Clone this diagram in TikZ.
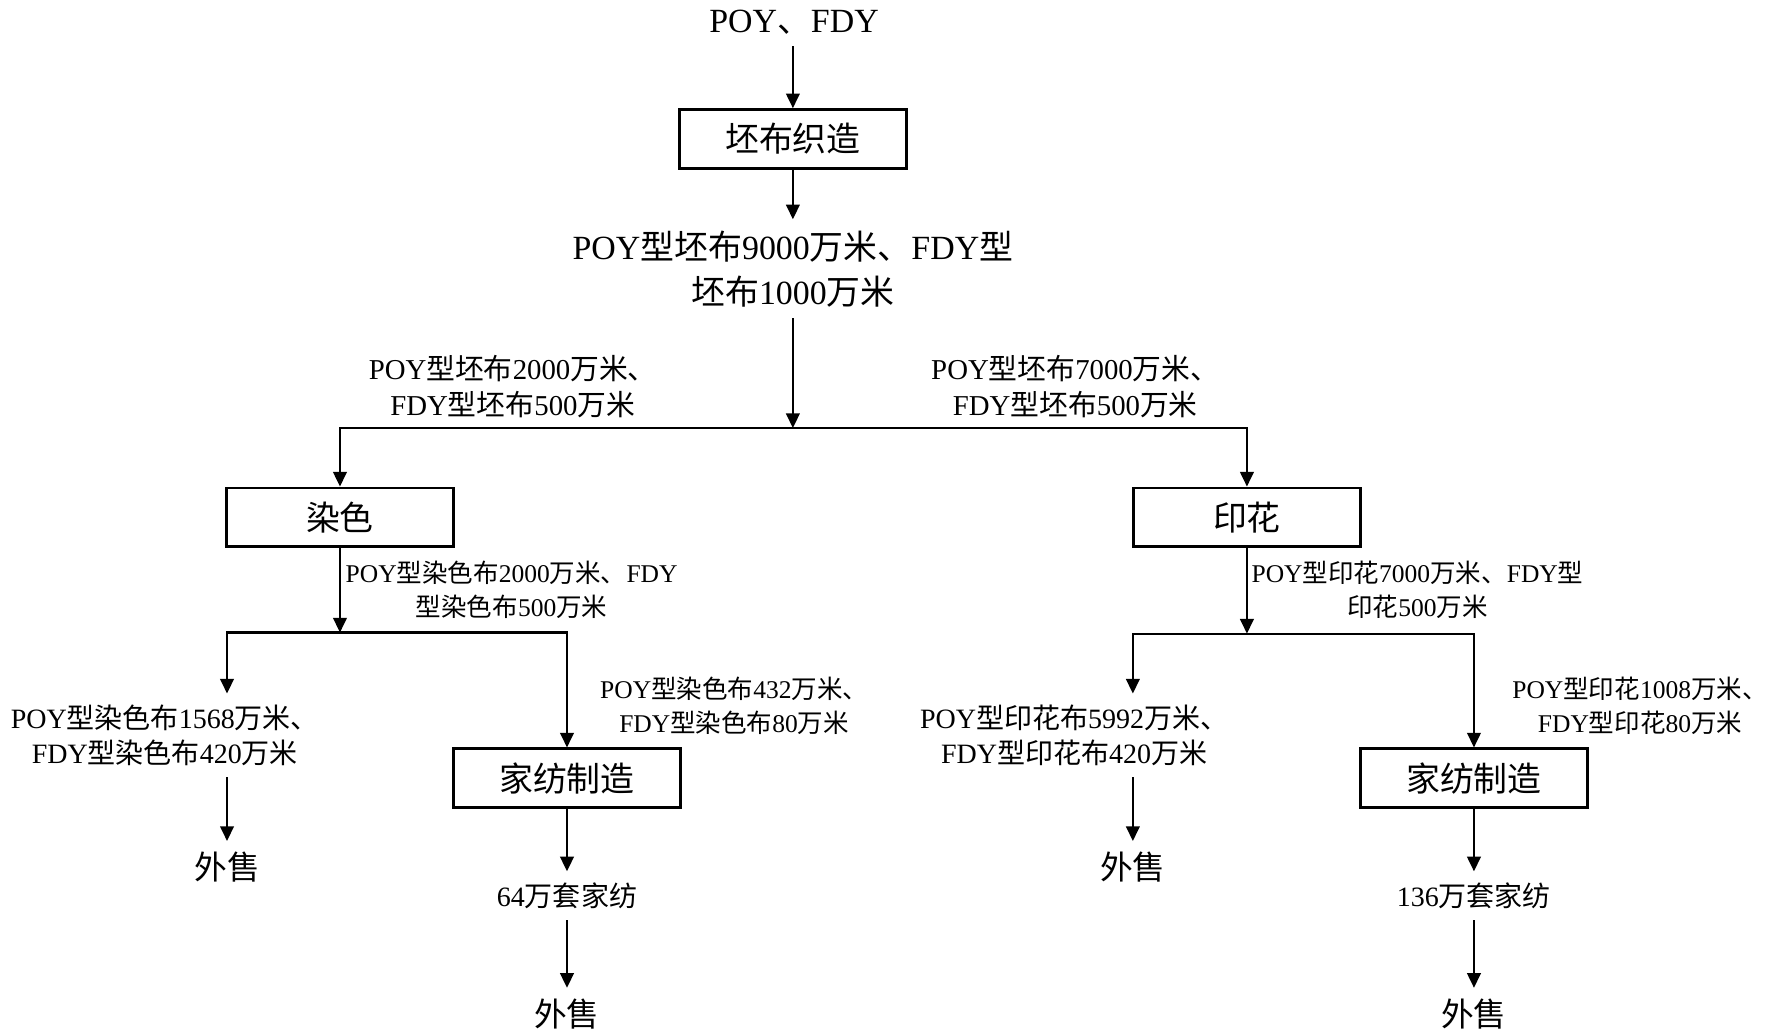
\documentclass[tikz,border=0pt]{standalone}
\usepackage{fontspec}
\setmainfont{Liberation Serif}
\newfontfamily\cjk{Noto Sans CJK SC}
\newcommand\zh[1]{{\cjk #1}}
\newcommand\fA{\fontsize{15pt}{20pt}\selectfont}
\newcommand\fB{\fontsize{12.75pt}{16pt}\selectfont}
\newcommand\fC{\fontsize{11.3pt}{15pt}\selectfont}
\newcommand\fD{\fontsize{12.4pt}{15.5pt}\selectfont}
\newcommand\fE{\fontsize{14.5pt}{18pt}\selectfont}
\usetikzlibrary{arrows.meta}
\begin{document}
\begin{tikzpicture}[x=0.5pt,y=-0.5pt,
  box/.style={draw,line width=1.2pt,minimum width=100.5pt,minimum height=26pt,inner sep=0pt,font=\fA},
  txt/.style={inner sep=0pt,outer sep=5pt,align=center},
  arr/.style={line width=1pt,-{Triangle[length=6.5pt,width=6pt]}}]
\useasboundingbox (0,0) rectangle (1568,917.2);
% top
\node[txt,font=\fA] (src) at (703,20) {POY\zh{、}FDY};
\node[box] (weave) at (702,123) {\zh{坯布织造}};
\node[txt,font=\fA] (grey) at (702,238) {POY\zh{型坯布}9000\zh{万米、}FDY\zh{型}\\\zh{坯布}1000\zh{万米}};
\coordinate (j1) at (702,379);
\node[txt,font=\fB] (l1) at (454,342) {POY\zh{型坯布}2000\zh{万米、}\\FDY\zh{型坯布}500\zh{万米}};
\node[txt,font=\fB] (r1) at (952,342) {POY\zh{型坯布}7000\zh{万米、}\\FDY\zh{型坯布}500\zh{万米}};
\node[box] (dye) at (301,458) {\zh{染色}};
\node[box] (prt) at (1104,458) {\zh{印花}};
\coordinate (j2) at (301,560);
\coordinate (j3) at (1104,561);
% left branch
\node[txt,font=\fC] (l2) at (453,522) {POY\zh{型染色布}2000\zh{万米、}FDY\\\zh{型染色布}500\zh{万米}};
\node[txt,font=\fD] (ll) at (146,651) {POY\zh{型染色布}1568\zh{万米、}\\FDY\zh{型染色布}420\zh{万米}};
\node[txt,font=\fC] (lr) at (650,625) {POY\zh{型染色布}432\zh{万米、}\\FDY\zh{型染色布}80\zh{万米}};
\node[box] (home1) at (502,689) {\zh{家纺制造}};
\node[txt,font=\fE] (sell1) at (201,768) {\zh{外售}};
\node[txt,font=\fD] (set1) at (502,793) {64\zh{万套家纺}};
\node[txt,font=\fE] (sell3) at (502,898) {\zh{外售}};
% right branch
\node[txt,font=\fC] (r2) at (1255,522) {POY\zh{型印花}7000\zh{万米、}FDY\zh{型}\\\zh{印花}500\zh{万米}};
\node[txt,font=\fD] (rl) at (951,651) {POY\zh{型印花布}5992\zh{万米、}\\FDY\zh{型印花布}420\zh{万米}};
\node[txt,font=\fC] (rr) at (1452,625) {POY\zh{型印花}1008\zh{万米、}\\FDY\zh{型印花}80\zh{万米}};
\node[box] (home2) at (1305,689) {\zh{家纺制造}};
\node[txt,font=\fE] (sell2) at (1003,768) {\zh{外售}};
\node[txt,font=\fD] (set2) at (1305,793) {136\zh{万套家纺}};
\node[txt,font=\fE] (sell4) at (1305,898) {\zh{外售}};
% connectors
\draw[arr] (src.south -| weave.north) -- (weave.north);
\draw[arr] (weave.south) -- (grey.north);
\draw[arr] (grey.south) -- (j1);
\draw[arr] (j1) -| (dye.north);
\draw[arr] (j1) -| (prt.north);
\draw[arr] (dye.south) -- (j2);
\draw[arr] (j2) -| (sell1 |- ll.north);
\draw[arr] (j2) -| (home1.north);
\draw[arr] (sell1 |- ll.south) -- (sell1.north);
\draw[arr] (home1.south) -- (set1.north);
\draw[arr] (set1.south) -- (sell3.north);
\draw[arr] (prt.south) -- (j3);
\draw[arr] (j3) -| (sell2 |- rl.north);
\draw[arr] (j3) -| (home2.north);
\draw[arr] (sell2 |- rl.south) -- (sell2.north);
\draw[arr] (home2.south) -- (set2.north);
\draw[arr] (set2.south) -- (sell4.north);
\end{tikzpicture}
\end{document}
